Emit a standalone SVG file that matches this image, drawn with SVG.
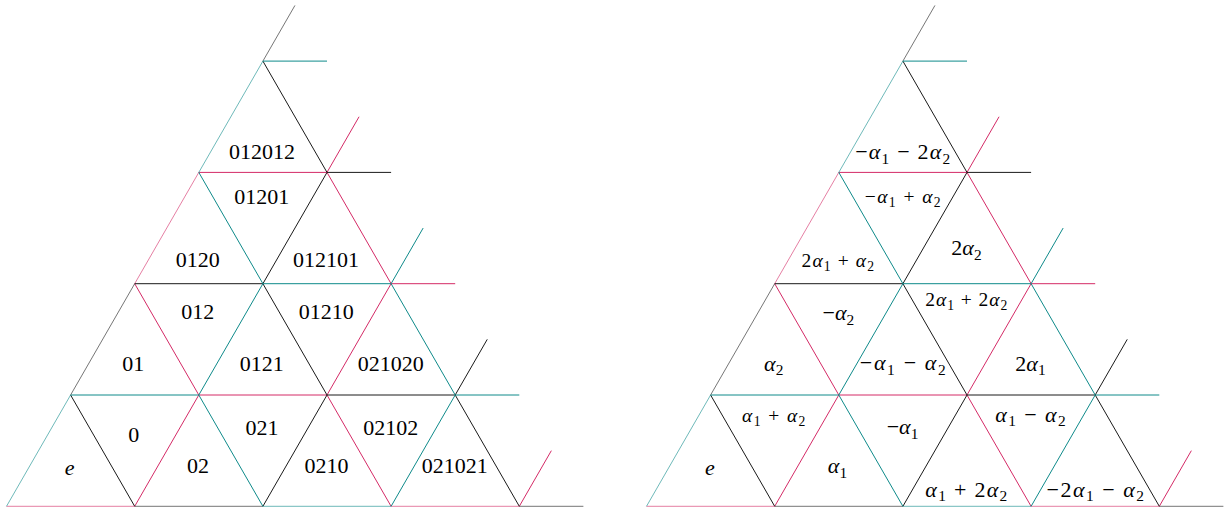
<svg xmlns="http://www.w3.org/2000/svg" width="1224" height="507" viewBox="0 0 1224 507">
<style>
line{fill:none;stroke-width:1}
.k{stroke:#1a1a1a}
.t{stroke:#0e8a8a}
.p{stroke:#d42a66}
.b{stroke-opacity:0.6}
text{font-family:"Liberation Serif","DejaVu Serif",serif;font-size:22px;fill:#000;text-anchor:middle}
.sm{font-size:19.5px}
.i{font-style:italic}
.s{font-size:70%}
</style>
<defs>
<g id="grid">
<g class="pink">
<line class="p b" x1="6.5" y1="506.3" x2="134.7" y2="506.3"/>
<line class="p b" x1="391.1" y1="506.3" x2="519.3" y2="506.3"/>
<line class="p" x1="198.8" y1="395" x2="327" y2="395"/>
<line class="p" x1="391.1" y1="283.7" x2="455.2" y2="283.7"/>
<line class="p" x1="198.8" y1="172.4" x2="327" y2="172.4"/>
<line class="p" x1="134.7" y1="506.3" x2="198.8" y2="395"/>
<line class="p" x1="519.3" y1="506.3" x2="551.35" y2="450.65"/>
<line class="p" x1="327" y1="395" x2="391.1" y2="283.7"/>
<line class="p b" x1="134.7" y1="283.7" x2="198.8" y2="172.4"/>
<line class="p" x1="327" y1="172.4" x2="359.05" y2="116.75"/>
<line class="p" x1="327" y1="395" x2="391.1" y2="506.3"/>
<line class="p" x1="134.7" y1="283.7" x2="198.8" y2="395"/>
<line class="p" x1="327" y1="172.4" x2="391.1" y2="283.7"/>
</g>
<g class="black">
<line class="k b" x1="134.7" y1="506.3" x2="262.9" y2="506.3"/>
<line class="k b" x1="519.3" y1="506.3" x2="583.4" y2="506.3"/>
<line class="k" x1="327" y1="395" x2="455.2" y2="395"/>
<line class="k" x1="134.7" y1="283.7" x2="262.9" y2="283.7"/>
<line class="k" x1="327" y1="172.4" x2="391.1" y2="172.4"/>
<line class="k" x1="262.9" y1="506.3" x2="327" y2="395"/>
<line class="k b" x1="70.6" y1="395" x2="134.7" y2="283.7"/>
<line class="k" x1="455.2" y1="395" x2="487.25" y2="339.35"/>
<line class="k" x1="262.9" y1="283.7" x2="327" y2="172.4"/>
<line class="k b" x1="262.9" y1="61.1" x2="294.95" y2="5.45"/>
<line class="k" x1="70.6" y1="395" x2="134.7" y2="506.3"/>
<line class="k" x1="455.2" y1="395" x2="519.3" y2="506.3"/>
<line class="k" x1="262.9" y1="283.7" x2="327" y2="395"/>
<line class="k" x1="262.9" y1="61.1" x2="327" y2="172.4"/>
</g>
<g class="teal">
<line class="t b" x1="262.9" y1="506.3" x2="391.1" y2="506.3"/>
<line class="t" x1="70.6" y1="395" x2="198.8" y2="395"/>
<line class="t" x1="455.2" y1="395" x2="519.3" y2="395"/>
<line class="t" x1="262.9" y1="283.7" x2="391.1" y2="283.7"/>
<line class="t" x1="262.9" y1="61.1" x2="327" y2="61.1"/>
<line class="t b" x1="6.5" y1="506.3" x2="70.6" y2="395"/>
<line class="t" x1="391.1" y1="506.3" x2="455.2" y2="395"/>
<line class="t" x1="198.8" y1="395" x2="262.9" y2="283.7"/>
<line class="t" x1="391.1" y1="283.7" x2="423.15" y2="228.05"/>
<line class="t b" x1="198.8" y1="172.4" x2="262.9" y2="61.1"/>
<line class="t" x1="198.8" y1="395" x2="262.9" y2="506.3"/>
<line class="t" x1="391.1" y1="283.7" x2="455.2" y2="395"/>
<line class="t" x1="198.8" y1="172.4" x2="262.9" y2="283.7"/>
</g>
</g>
</defs>
<g id="connectors">
<use href="#grid"/>
<use href="#grid" transform="translate(640,0)"/>
</g>
<g id="left-words">
<g id="w012012"><text x="262" y="159">012012</text></g>
<g id="w01201"><text x="261.8" y="203.7">01201</text></g>
<g id="w0120"><text x="197.8" y="267.3">0120</text></g>
<g id="w012101"><text x="326" y="267.3">012101</text></g>
<g id="w012"><text x="197.8" y="319.3">012</text></g>
<g id="w01210"><text x="326.3" y="319.3">01210</text></g>
<g id="w01"><text x="133.3" y="370.7">01</text></g>
<g id="w0121"><text x="261.7" y="370.7">0121</text></g>
<g id="w021020"><text x="390.8" y="370.7">021020</text></g>
<g id="w0"><text x="133.8" y="442.3">0</text></g>
<g id="w021"><text x="262" y="435">021</text></g>
<g id="w02102"><text x="390.8" y="435">02102</text></g>
<g id="we"><text class="i" x="69.7" y="475">e</text></g>
<g id="w02"><text x="198" y="473.3">02</text></g>
<g id="w0210"><text x="326.5" y="473.3">0210</text></g>
<g id="w021021"><text x="454.7" y="473.3">021021</text></g>
</g>
<g id="right-roots">
<g id="r1"><text x="902.7" y="159" textLength="95" lengthAdjust="spacing">−<tspan class="i">α</tspan><tspan class="s" dy="4.5">1</tspan><tspan dy="-4.5"> − 2</tspan><tspan class="i">α</tspan><tspan class="s" dy="4.5">2</tspan></text></g>
<g id="r2"><text class="sm" x="902.7" y="202.7" textLength="76" lengthAdjust="spacing">−<tspan class="i">α</tspan><tspan class="s" dy="4">1</tspan><tspan dy="-4"> + </tspan><tspan class="i">α</tspan><tspan class="s" dy="4">2</tspan></text></g>
<g id="r3"><text x="966.5" y="255">2<tspan class="i">α</tspan><tspan class="s" dy="4.5">2</tspan></text></g>
<g id="r4"><text class="sm" x="837.8" y="267" textLength="72.5" lengthAdjust="spacing">2<tspan class="i">α</tspan><tspan class="s" dy="4">1</tspan><tspan dy="-4"> + </tspan><tspan class="i">α</tspan><tspan class="s" dy="4">2</tspan></text></g>
<g id="r5"><text x="838.3" y="320">−<tspan class="i">α</tspan><tspan class="s" dy="4.5">2</tspan></text></g>
<g id="r6"><text class="sm" x="966.3" y="305.7" textLength="82" lengthAdjust="spacing">2<tspan class="i">α</tspan><tspan class="s" dy="4">1</tspan><tspan dy="-4"> + 2</tspan><tspan class="i">α</tspan><tspan class="s" dy="4">2</tspan></text></g>
<g id="r7"><text x="773.7" y="370.7"><tspan class="i">α</tspan><tspan class="s" dy="4.5">2</tspan></text></g>
<g id="r8"><text x="902.8" y="370" textLength="86" lengthAdjust="spacing">−<tspan class="i">α</tspan><tspan class="s" dy="4.5">1</tspan><tspan dy="-4.5"> − </tspan><tspan class="i">α</tspan><tspan class="s" dy="4.5">2</tspan></text></g>
<g id="r9"><text x="1030.5" y="370.7">2<tspan class="i">α</tspan><tspan class="s" dy="4.5">1</tspan></text></g>
<g id="r10"><text class="sm" x="773.7" y="421.7" textLength="63.5" lengthAdjust="spacing"><tspan class="i">α</tspan><tspan class="s" dy="4">1</tspan><tspan dy="-4"> + </tspan><tspan class="i">α</tspan><tspan class="s" dy="4">2</tspan></text></g>
<g id="r11"><text x="902.5" y="434.3">−<tspan class="i">α</tspan><tspan class="s" dy="4.5">1</tspan></text></g>
<g id="r12"><text x="1030.5" y="421.7" textLength="70.5" lengthAdjust="spacing"><tspan class="i">α</tspan><tspan class="s" dy="4.5">1</tspan><tspan dy="-4.5"> − </tspan><tspan class="i">α</tspan><tspan class="s" dy="4.5">2</tspan></text></g>
<g id="re"><text class="i" x="710" y="475">e</text></g>
<g id="r13"><text x="837.5" y="473.3"><tspan class="i">α</tspan><tspan class="s" dy="4.5">1</tspan></text></g>
<g id="r14"><text x="966.3" y="496.7" textLength="82" lengthAdjust="spacing"><tspan class="i">α</tspan><tspan class="s" dy="4.5">1</tspan><tspan dy="-4.5"> + 2</tspan><tspan class="i">α</tspan><tspan class="s" dy="4.5">2</tspan></text></g>
<g id="r15"><text x="1095.3" y="496.7" textLength="97.5" lengthAdjust="spacing">−2<tspan class="i">α</tspan><tspan class="s" dy="4.5">1</tspan><tspan dy="-4.5"> − </tspan><tspan class="i">α</tspan><tspan class="s" dy="4.5">2</tspan></text></g>
</g>
</svg>
